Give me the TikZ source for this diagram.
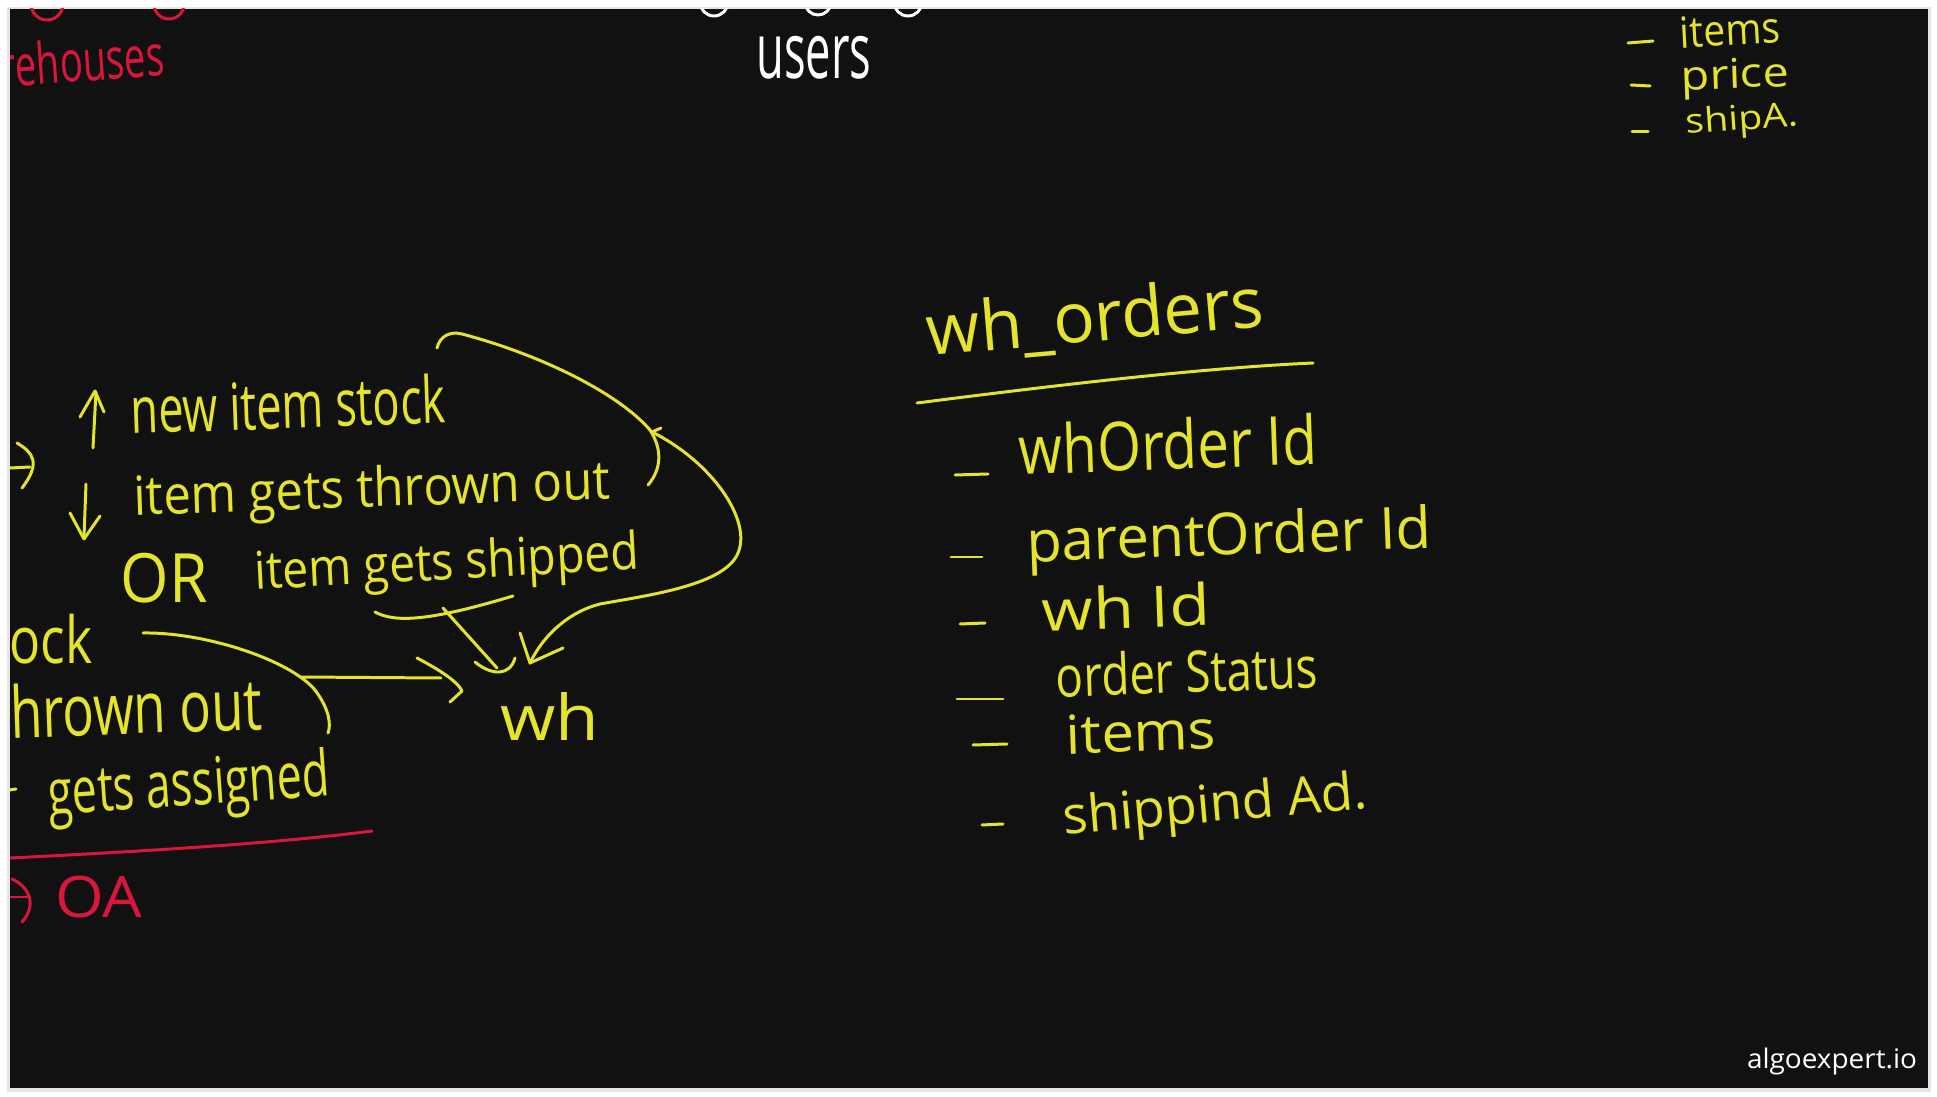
\documentclass[tikz,border=0pt]{standalone}
\usepackage{fontspec}
\setmainfont{Open Sans}
\usepackage{graphicx}
\newlength\px
\setlength\px{0.02cm}
\definecolor{hy}{RGB}{228,228,44}
\definecolor{hr}{RGB}{218,22,60}
\definecolor{board}{RGB}{17,17,17}
\newcommand\fitto[3]{\resizebox*{#1\px}{#2\px}{#3}}
\tikzset{
  hw/.style={inner sep=0pt, anchor=center},
  ink/.style={line width=1.7pt, line cap=round, line join=round},
  yink/.style={ink, draw=hy},
  rink/.style={ink, draw=hr},
  wink/.style={ink, draw=white},
}
\begin{document}
\begin{tikzpicture}[x=0.02cm, y=-0.02cm]
\useasboundingbox (0,0) rectangle (1937,1097);
\fill[white] (0,0) rectangle (1937,1097);
\fill[black!10] (7,7) rectangle (1931,1092);
\fill[board] (10,9) rectangle (1928,1088);
\begin{scope}
\clip (10,9) rectangle (1928,1088);
% partial letters at top edge
\draw[rink] (47,4) circle (16);
\draw[rink] (169,4) circle (15);
\draw[wink] (714,2) circle (14);
\draw[wink] (818,2) circle (13);
\draw[wink] (908,2) circle (14);
% red text
\node[hw,text=hr,rotate=4] (rehouses) at (82,60) {\fitto{164}{44}{rehouses}};
\node[hw,text=white] (users) at (814,58) {\fitto{115}{43}{users}};
% top right list
\node[hw,text=hy,rotate=3] (ti) at (1730,30) {\fitto{100}{32}{items}};
\node[hw,text=hy,rotate=2] (tp) at (1735,78) {\fitto{108}{40}{price}};
\node[hw,text=hy,rotate=4] (ts) at (1742,121) {\fitto{112}{34}{shipA.}};
\draw[yink] (1628,43) -- (1653,41);
\draw[yink] (1631,85) -- (1650,86);
\draw[yink] (1632,132) -- (1648,132);
% left block
\node[hw,text=hy,rotate=2] (nis) at (288,404) {\fitto{315}{50}{new item stock}};
\node[hw,text=hy,rotate=2] (igto) at (372,493) {\fitto{476}{54}{item gets thrown out}};
\node[hw,text=hy] (or) at (164,578) {\fitto{87}{50}{OR}};
\node[hw,text=hy,rotate=3] (igs) at (447,566) {\fitto{385}{52}{item gets shipped}};
\node[hw,text=hy] (ock) at (51,639) {\fitto{83}{50}{ock}};
\node[hw,text=hy,rotate=2] (hro) at (136,707) {\fitto{252}{55}{hrown out}};
\node[hw,text=hy,rotate=4] (gas) at (189,789) {\fitto{282}{64}{gets assigned}};
\draw[yink] (9,790) -- (16,789);
\node[hw,text=hy] (wh) at (550,717) {\fitto{99}{48}{wh}};
% arrows at left
\draw[yink] (10,468) -- (30,467);
\draw[yink] (17,443) .. controls (32,452) and (42,462) .. (22,488);
\draw[yink] (93,448) -- (96,392);
\draw[yink] (80,417) -- (95,391) -- (104,412);
\draw[yink] (86,484) -- (84,537);
\draw[yink] (70,513) -- (84,539) -- (100,516);
% named ends near wh
\coordinate (inA) at (530,663);
\coordinate (inB) at (497,668);
\coordinate (inC) at (462,691);
% brace curve right of the lines
\draw[yink] (437,348) .. controls (440,336) and (450,331) .. (462,334)
  .. controls (545,356) and (620,395) .. (650,430)
  .. controls (663,450) and (661,470) .. (648,485);
% curve round to wh
\draw[yink] (652,432) -- (661,428);
\draw[yink] (652,432) .. controls (712,462) and (752,520) .. (738,553)
  .. controls (725,585) and (650,595) .. (600,604)
  .. controls (572,611) and (545,632) .. (inA);
\draw[yink] (520,633) -- (inA) -- (563,648);
% underbrace below shipped, arrow to wh
\draw[yink] (375,612) .. controls (395,623) and (430,621) .. (513,596);
\draw[yink] (443,608) -- (inB);
\draw[yink] (475,662) .. controls (492,676) and (510,676) .. (515,658);
% curve from stock lines and arrow to wh
\draw[yink] (143,633) .. controls (205,632) and (290,660) .. (315,690)
  .. controls (330,710) and (331,725) .. (328,733);
\draw[yink] (300,677) -- (441,678);
\draw[yink] (417,658) .. controls (440,670) and (458,682) .. (inC) -- (450,702);
% red separator and OA
\draw[rink] (10,858) .. controls (150,851) and (280,843) .. (372,831);
\draw[rink] (10,897) -- (27,897);
\draw[rink] (12,879) .. controls (28,886) and (38,904) .. (22,922);
\node[hw,text=hr] (oa) at (99,897) {\fitto{87}{42}{OA}};
% wh_orders table
\node[hw,text=hy,rotate=5] (tbl) at (1095,320) {\fitto{338}{64}{wh\_orders}};
\draw[yink] (917,403) .. controls (1050,386) and (1200,368) .. (1313,363);
\draw[yink] (955,475) -- (988,474);
\node[hw,text=hy,rotate=2] (f1) at (1168,444) {\fitto{298}{52}{whOrder Id}};
\draw[yink] (951,557) -- (982,557);
\node[hw,text=hy,rotate=2] (f2) at (1229,540) {\fitto{405}{58}{parentOrder Id}};
\draw[yink] (960,624) -- (985,623);
\node[hw,text=hy,rotate=2] (f3) at (1126,607) {\fitto{168}{44}{wh Id}};
\draw[yink] (957,699) -- (1003,699);
\node[hw,text=hy,rotate=2] (f4) at (1187,671) {\fitto{262}{44}{order Status}};
\draw[yink] (973,745) -- (1007,744);
\node[hw,text=hy,rotate=2] (f5) at (1141,732) {\fitto{150}{40}{items}};
\draw[yink] (982,825) -- (1003,824);
\node[hw,text=hy,rotate=5] (f6) at (1215,808) {\fitto{305}{52}{shippind Ad.}};
% logo
\node[hw,text=white] (logo) at (1832,1061) {\fitto{170}{27}{algoexpert.io}};
\end{scope}
\end{tikzpicture}
\end{document}
